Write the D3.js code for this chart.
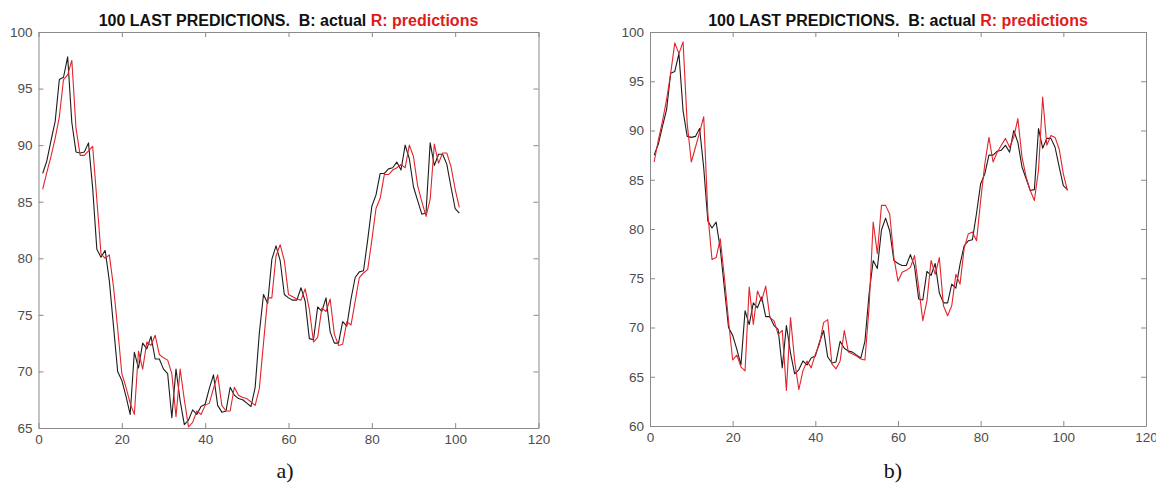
<!DOCTYPE html>
<html>
<head>
<meta charset="utf-8">
<script src="https://cdn.jsdelivr.net/npm/d3@7"></script>
<style>
  html, body { margin: 0; padding: 0; background: #ffffff; }
  svg { display: block; }
</style>
</head>
<body>
<svg id="chart" width="1156" height="485"></svg>
<script>
// Step index of the last 101 samples
const steps = d3.range(1, 102);

// Actual series (black), shared by both panels
const actual = [
  87.5, 88.6, 90.4, 92.1, 95.8, 96.0, 97.8, 92.0, 89.4, 89.3,
  89.4, 90.2, 86.2, 80.8, 80.1, 80.7, 78.0, 74.0, 70.0, 69.2,
  67.8, 66.2, 71.7, 70.3, 72.5, 72.0, 73.1, 71.1, 71.1, 70.2,
  69.8, 65.9, 70.2, 67.4, 65.3, 65.7, 66.6, 66.2, 66.9, 67.1,
  68.5, 69.7, 67.0, 66.4, 66.5, 68.6, 67.9, 67.6, 67.5, 67.2,
  66.9, 68.6, 73.4, 76.8, 76.0, 79.9, 81.1, 79.8, 76.8, 76.5,
  76.3, 76.3, 77.4, 76.2, 72.9, 72.8, 75.7, 75.3, 76.5, 73.5,
  72.5, 72.5, 74.4, 74.0, 76.4, 78.3, 78.8, 78.9, 81.6, 84.6,
  85.6, 87.5, 87.5, 87.9, 88.0, 88.5, 87.8, 90.0, 88.8, 86.3,
  85.1, 83.9, 84.0, 90.2, 88.2, 89.2, 89.2, 88.3, 86.3, 84.4,
  84.0
];

// Predictions, panel a)
const predictionsA = [
  86.1, 87.6, 89.0, 90.6, 92.5, 95.8, 96.2, 97.5, 91.5, 89.1,
  89.1, 89.5, 89.9, 85.2, 80.4, 80.0, 80.3, 77.5, 73.8, 69.8,
  68.6, 67.2, 66.2, 71.8, 70.2, 72.6, 72.3, 73.2, 71.5, 71.2,
  71.0, 69.8, 66.0, 70.2, 67.5, 65.1, 65.5, 66.5, 66.2, 67.0,
  67.2, 68.5, 69.7, 67.0, 66.5, 66.5, 68.6, 67.9, 67.7, 67.6,
  67.3, 67.0, 68.5, 72.5, 76.5, 76.5, 80.2, 81.2, 79.8, 76.8,
  76.6, 76.4, 76.3, 77.3, 75.5, 72.6, 73.0, 75.6, 75.3, 76.4,
  73.3, 72.3, 72.4, 74.4, 74.1, 76.2, 78.3, 78.7, 79.0, 81.6,
  84.4, 85.3, 87.4, 87.4, 87.8, 88.0, 88.3, 88.0, 90.0, 89.0,
  86.4, 85.0, 83.7, 85.2, 90.1, 88.4, 89.3, 89.3, 88.1, 86.1,
  84.5
];

// Predictions, panel b)
const predictionsB = [
  86.8, 89.0, 90.9, 93.1, 95.8, 98.9, 97.8, 99.0, 90.7, 86.8,
  88.3, 89.8, 91.4, 81.5, 76.9, 77.1, 79.0, 75.1, 70.7, 66.7,
  67.2, 66.0, 65.6, 74.1, 70.3, 73.7, 72.7, 74.2, 71.0, 70.7,
  69.3, 69.7, 63.6, 71.0, 66.6, 63.7, 65.6, 66.6, 65.9, 67.3,
  68.3, 70.5, 70.8, 66.3, 65.8, 66.6, 69.7, 67.5, 67.3, 67.1,
  66.8, 66.7, 72.0, 80.7, 77.5, 82.4, 82.4, 81.5, 77.1, 74.7,
  75.6, 75.8, 76.1, 77.3, 74.1, 70.7, 72.7, 76.8, 75.4, 77.1,
  72.2, 71.2, 72.2, 75.4, 74.4, 78.0, 79.5, 79.7, 78.8, 82.9,
  86.6, 89.3, 86.8, 87.8, 88.5, 89.2, 88.3, 89.3, 91.2, 87.3,
  85.3, 83.9, 82.9, 86.0, 93.4, 88.5, 89.5, 89.3, 88.1, 85.6,
  83.9
];

// Axis ticks
const xTicks = [0, 20, 40, 60, 80, 100, 120];
const yTicksA = [65, 70, 75, 80, 85, 90, 95, 100];
const yTicksB = [60, 65, 70, 75, 80, 85, 90, 95, 100];

// Title pieces and panel captions
const titleBlack = "100 LAST PREDICTIONS.  B: actual ";
const titleRed = "R: predictions";
const captions = ["a)", "b)"];

const svg = d3.select("#chart");
const frameColor = "#8a8a8a";
const tickTextColor = "#4d4d4d";
const actualColor = "#1c1c1c";
const predColor = "#e3242b";
const sansFont = "'Liberation Sans', Arial, sans-serif";

const panels = [
  { x0: 38.5, x1: 538.5, y0: 32, y1: 428, yDomain: [65, 100], yTicks: yTicksA,
    pred: predictionsA, caption: captions[0], captionX: 285 },
  { x0: 650, x1: 1146, y0: 32, y1: 426, yDomain: [60, 100], yTicks: yTicksB,
    pred: predictionsB, caption: captions[1], captionX: 893 }
];

panels.forEach((p, k) => {
  const x = d3.scaleLinear().domain([0, 120]).range([p.x0, p.x1]);
  const y = d3.scaleLinear().domain(p.yDomain).range([p.y1, p.y0]);
  const g = svg.append("g");

  const clipId = "clip" + k;
  g.append("clipPath").attr("id", clipId)
    .append("rect")
    .attr("x", p.x0).attr("y", p.y0)
    .attr("width", p.x1 - p.x0).attr("height", p.y1 - p.y0);

  // Boxed frame with inward ticks on all four sides
  const styleAxis = sel => {
    sel.attr("font-family", sansFont).attr("font-size", 13.5);
    sel.select(".domain").attr("stroke", frameColor).attr("stroke-width", 1);
    sel.selectAll(".tick line").attr("stroke", frameColor).attr("stroke-width", 1);
    sel.selectAll(".tick text").attr("fill", tickTextColor);
  };

  g.append("g")
    .attr("transform", `translate(0,${p.y1})`)
    .call(d3.axisBottom(x).tickValues(xTicks).tickSizeInner(-5).tickSizeOuter(0).tickPadding(6))
    .call(styleAxis);
  g.append("g")
    .attr("transform", `translate(0,${p.y0})`)
    .call(d3.axisTop(x).tickValues(xTicks).tickSizeInner(-5).tickSizeOuter(0).tickFormat(""))
    .call(styleAxis);
  g.append("g")
    .attr("transform", `translate(${p.x0},0)`)
    .call(d3.axisLeft(y).tickValues(p.yTicks).tickSizeInner(-5).tickSizeOuter(0).tickPadding(6))
    .call(styleAxis);
  g.append("g")
    .attr("transform", `translate(${p.x1},0)`)
    .call(d3.axisRight(y).tickValues(p.yTicks).tickSizeInner(-5).tickSizeOuter(0).tickFormat(""))
    .call(styleAxis);

  // Actual and predicted series
  const line = d3.line()
    .x((d, i) => x(steps[i]))
    .y(d => y(d));

  const plot = g.append("g").attr("clip-path", `url(#${clipId})`);
  plot.append("path")
    .datum(actual)
    .attr("fill", "none")
    .attr("stroke", actualColor)
    .attr("stroke-width", 1.1)
    .attr("stroke-linejoin", "round")
    .attr("d", line);
  plot.append("path")
    .datum(p.pred)
    .attr("fill", "none")
    .attr("stroke", predColor)
    .attr("stroke-width", 1.1)
    .attr("stroke-linejoin", "round")
    .attr("d", line);

  // Title, black part then red part
  const title = g.append("text")
    .attr("x", (p.x0 + p.x1) / 2)
    .attr("y", 26)
    .attr("text-anchor", "middle")
    .attr("font-family", sansFont)
    .attr("font-weight", "bold")
    .attr("font-size", 14)
    .style("white-space", "pre");
  title.append("tspan").attr("fill", "#111111").text(titleBlack);
  title.append("tspan").attr("fill", "#e01b1b").text(titleRed);
  const w = title.node().getComputedTextLength();
  title.attr("font-size", 14 * 380 / w);

  // Panel caption
  g.append("text")
    .attr("x", p.captionX)
    .attr("y", 478)
    .attr("text-anchor", "middle")
    .attr("font-family", "'Liberation Serif', 'DejaVu Serif', serif")
    .attr("font-size", 22)
    .attr("fill", "#111111")
    .text(p.caption);
});
</script>
</body>
</html>
